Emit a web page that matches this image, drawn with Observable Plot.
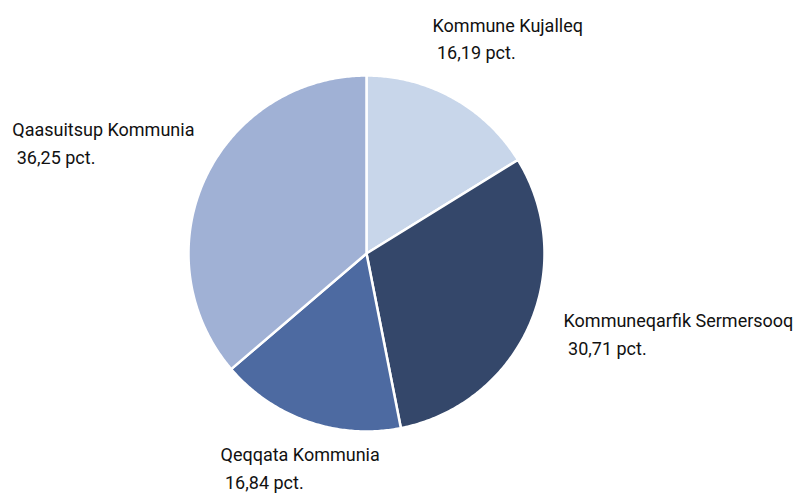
<!DOCTYPE html>
<html>
<head>
<meta charset="utf-8">
<script src="https://cdn.jsdelivr.net/npm/d3@7"></script>
<script src="https://cdn.jsdelivr.net/npm/@observablehq/plot@0.6"></script>
<style>
  html, body { margin: 0; padding: 0; background: #fff; }
  svg text { white-space: pre; }
</style>
</head>
<body>
<div id="chart"></div>
<script>
const categories = ["Kommune Kujalleq", "Kommuneqarfik Sermersooq", "Qeqqata Kommunia", "Qaasuitsup Kommunia"];
const shares = [16.19, 30.71, 16.84, 36.25];
const colors = ["#c8d6ea", "#34476a", "#4d6aa1", "#a0b1d5"];

// label anchors (top-left of text block), in pie-radius units
const labelPos = [
  {x: 0.371, y: 1.358},
  {x: 1.107, y: -0.304},
  {x: -0.82, y: -1.057},
  {x: -1.99, y: 0.769}
];

const R = 178, cx = 366, cy = 253, W = 804, H = 493;

const arcs = d3.pie().sort(null).value(d => d.v)(categories.map((c, i) => ({c, v: shares[i]})));
const poly = [];
arcs.forEach(a => {
  poly.push({c: a.data.c, x: 0, y: 0});
  const n = Math.max(2, Math.ceil((a.endAngle - a.startAngle) / 0.01));
  for (let k = 0; k <= n; k++) {
    const t = a.startAngle + (a.endAngle - a.startAngle) * k / n;
    poly.push({c: a.data.c, x: Math.sin(t), y: Math.cos(t)});
  }
});

const fmt = v => v.toFixed(2).replace(".", ",");
const labels = categories.map((c, i) => ({
  x: labelPos[i].x, y: labelPos[i].y,
  text: c + "\n " + fmt(shares[i]) + " pct."
}));

const chart = Plot.plot({
  width: W, height: H,
  marginLeft: cx - R, marginRight: W - (cx + R),
  marginTop: cy - R, marginBottom: H - (cy + R),
  x: {domain: [-1, 1], axis: null},
  y: {domain: [-1, 1], axis: null},
  color: {domain: categories, range: colors},
  style: {fontFamily: "Roboto, sans-serif", background: "#fff"},
  marks: [
    Plot.line(poly, {x: "x", y: "y", z: "c", fill: "c", stroke: "#fff", strokeWidth: 2.5, curve: "linear-closed", strokeLinejoin: "round"}),
    Plot.text(labels, {x: "x", y: "y", text: "text", textAnchor: "start", lineAnchor: "top", fontSize: 18, lineHeight: 1.55, fill: "#111"})
  ]
});
document.getElementById("chart").appendChild(chart);
</script>
</body>
</html>
